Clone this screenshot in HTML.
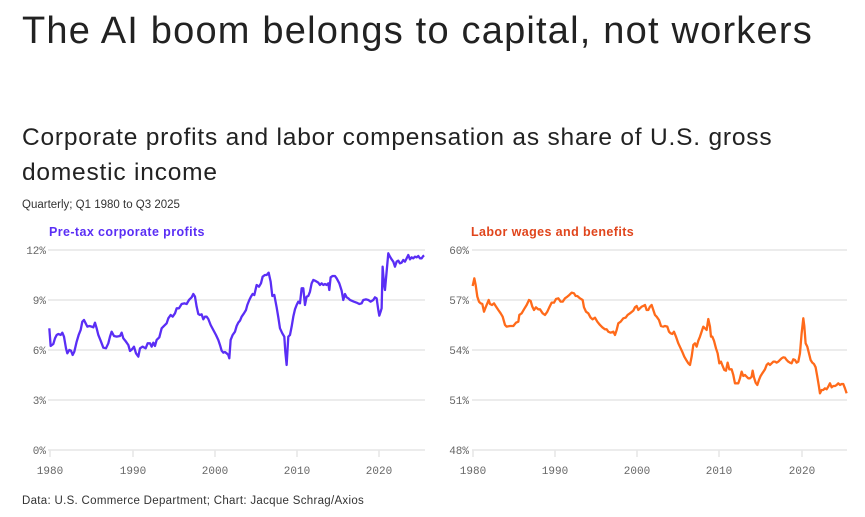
<!DOCTYPE html>
<html><head><meta charset="utf-8"><style>
body{margin:0;width:865px;height:517px;background:#fff;overflow:hidden;font-family:"Liberation Sans",sans-serif;color:#222;position:relative}
.t{position:absolute;left:22px;top:10px;font-size:38px;letter-spacing:1.2px;color:#222}
.s{position:absolute;left:22px;top:120px;font-size:24.5px;line-height:35px;width:840px;letter-spacing:0.8px;color:#222}
.q{position:absolute;left:22px;top:199px;font-size:11.5px;color:#333}
.f{position:absolute;left:22px;top:495px;font-size:11.5px;letter-spacing:0.3px;color:#333}
svg{position:absolute;left:0;top:0}
</style></head><body>
<div class="t">The AI boom belongs to capital, not workers</div>
<div class="s">Corporate profits and labor compensation as share of U.S. gross<br>domestic income</div>
<div class="q">Quarterly; Q1 1980 to Q3 2025</div>
<div class="f">Data: U.S. Commerce Department; Chart: Jacque Schrag/Axios</div>
<svg width="865" height="517" font-family="Liberation Mono, monospace" font-size="11" fill="#666">
<text x="49" y="236" font-family="Liberation Sans" font-weight="bold" font-size="12.5" letter-spacing="0.4" fill="#5a2ef5">Pre-tax corporate profits</text>
<text x="471" y="236" font-family="Liberation Sans" font-weight="bold" font-size="12.5" letter-spacing="0.4" fill="#e0451c">Labor wages and benefits</text>
<g stroke="#e6e6e6" stroke-width="1.5">
<line x1="48" x2="425" y1="250" y2="250"/><line x1="48" x2="425" y1="300" y2="300"/><line x1="48" x2="425" y1="350" y2="350"/><line x1="48" x2="425" y1="400" y2="400"/><line x1="48" x2="425" y1="450" y2="450"/>
<line x1="472" x2="847" y1="250" y2="250"/><line x1="472" x2="847" y1="300" y2="300"/><line x1="472" x2="847" y1="350" y2="350"/><line x1="472" x2="847" y1="400" y2="400"/><line x1="472" x2="847" y1="450" y2="450"/>
<line x1="50" x2="50" y1="450" y2="457"/><line x1="133" x2="133" y1="450" y2="457"/><line x1="215" x2="215" y1="450" y2="457"/><line x1="297" x2="297" y1="450" y2="457"/><line x1="379" x2="379" y1="450" y2="457"/>
<line x1="473" x2="473" y1="450" y2="457"/><line x1="555" x2="555" y1="450" y2="457"/><line x1="637" x2="637" y1="450" y2="457"/><line x1="719" x2="719" y1="450" y2="457"/><line x1="802" x2="802" y1="450" y2="457"/>
</g>
<g text-anchor="end"><text x="46" y="254">12%</text><text x="46" y="304">9%</text><text x="46" y="354">6%</text><text x="46" y="404">3%</text><text x="46" y="454">0%</text>
<text x="469" y="254">60%</text><text x="469" y="304">57%</text><text x="469" y="354">54%</text><text x="469" y="404">51%</text><text x="469" y="454">48%</text></g>
<g text-anchor="middle"><text x="50" y="474">1980</text><text x="133" y="474">1990</text><text x="215" y="474">2000</text><text x="297" y="474">2010</text><text x="379" y="474">2020</text>
<text x="473" y="474">1980</text><text x="555" y="474">1990</text><text x="637" y="474">2000</text><text x="719" y="474">2010</text><text x="802" y="474">2020</text></g>
<g transform="translate(0,220) scale(0.3333)" fill="none" stroke-linejoin="round">
<polyline vector-effect="non-scaling-stroke" stroke="#5a2ef5" stroke-width="2.3" points="148,325 152,378 160,372 165,355 170,345 175,342 182,345 187,338 192,350 198,385 202,400 208,390 213,392 218,405 223,395 230,365 236,345 242,330 247,305 252,300 257,310 262,320 268,318 275,320 280,322 285,308 290,325 295,345 302,362 310,383 318,385 325,370 330,350 335,335 342,348 350,350 360,348 365,338 370,355 378,365 385,375 390,393 396,388 402,380 408,400 415,410 420,385 428,380 437,385 443,370 450,370 455,380 460,368 465,378 470,360 478,352 485,325 492,318 500,310 505,295 512,285 518,290 525,280 530,265 537,265 545,252 553,250 560,252 567,240 575,232 580,222 585,230 590,260 595,282 600,285 605,283 610,298 615,290 620,290 625,297 632,315 640,330 648,345 655,360 660,375 665,392 670,398 675,396 680,400 685,405 688,415 692,360 698,345 705,335 710,318 715,308 720,302 725,290 732,280 738,270 742,255 748,240 753,230 758,222 763,225 770,195 777,200 783,190 788,170 795,165 800,165 806,158 812,185 817,228 823,225 830,262 835,292 840,325 847,340 853,350 856,395 860,435 865,350 870,345 875,320 880,290 885,268 890,255 895,245 900,250 905,205 910,205 915,255 920,230 925,228 930,215 935,190 940,180 945,182 950,185 955,188 960,195 965,190 970,195 975,192 980,195 985,190 988,210 992,172 998,168 1005,168 1010,175 1018,190 1025,212 1030,240 1035,222 1040,232 1045,235 1050,240 1055,242 1062,245 1070,248 1078,252 1085,250 1090,240 1098,238 1105,240 1112,245 1120,240 1125,232 1130,235 1135,270 1138,287 1142,275 1145,265 1148,140 1152,190 1155,210 1160,155 1165,100 1170,110 1175,118 1180,125 1185,140 1190,125 1195,122 1200,130 1205,128 1210,120 1215,125 1220,115 1225,105 1230,118 1235,112 1240,115 1245,110 1250,112 1255,108 1260,115 1265,115 1270,108 1273,107"/>
</g>
<g transform="translate(430,220) scale(0.3333)" fill="none" stroke-linejoin="round">
<polyline vector-effect="non-scaling-stroke" stroke="#ff6a1a" stroke-width="2.3" points="128,198 133,175 137,195 142,230 147,245 152,250 157,252 162,275 167,262 172,250 176,240 180,252 186,255 192,250 197,258 205,270 212,280 218,290 225,315 230,320 240,318 250,318 258,308 265,305 268,285 275,280 282,268 290,255 297,240 302,243 307,260 312,270 318,262 325,268 330,268 338,280 345,285 352,275 358,262 365,248 372,248 378,237 385,235 392,245 398,245 405,235 412,230 418,225 425,218 432,220 437,228 442,228 450,235 458,240 462,262 468,275 475,280 482,293 488,298 495,293 502,305 510,315 517,322 525,328 530,328 535,335 542,338 550,335 555,345 560,330 565,310 572,305 580,295 587,293 593,285 600,280 610,272 615,262 620,258 625,270 630,265 635,260 640,258 645,255 650,270 655,270 660,260 665,255 670,270 675,285 680,290 687,300 693,318 700,320 705,318 712,320 717,335 722,340 727,342 732,335 738,350 745,370 752,385 758,398 763,410 770,422 775,430 780,435 785,410 790,375 795,370 800,380 805,362 810,350 815,335 820,320 825,325 830,330 835,297 840,320 843,350 847,350 852,362 858,385 863,400 868,430 873,425 878,438 883,450 888,452 893,428 898,448 905,448 910,465 915,490 920,490 925,490 930,475 935,455 940,468 945,465 950,470 955,475 960,475 965,470 968,452 972,472 977,488 982,495 987,480 992,468 997,460 1005,448 1010,435 1015,430 1020,435 1025,430 1030,425 1035,425 1040,428 1045,425 1050,420 1055,415 1060,412 1065,413 1070,420 1075,425 1080,428 1085,430 1090,418 1095,420 1100,428 1105,425 1110,400 1115,340 1120,295 1123,318 1127,370 1132,380 1137,400 1142,420 1147,428 1152,432 1157,442 1162,470 1167,500 1170,520 1175,510 1180,510 1185,505 1190,508 1195,500 1200,490 1205,502 1210,498 1215,498 1220,495 1225,490 1230,495 1235,492 1240,492 1245,505 1250,520"/>
</g>
</svg>
</body></html>
